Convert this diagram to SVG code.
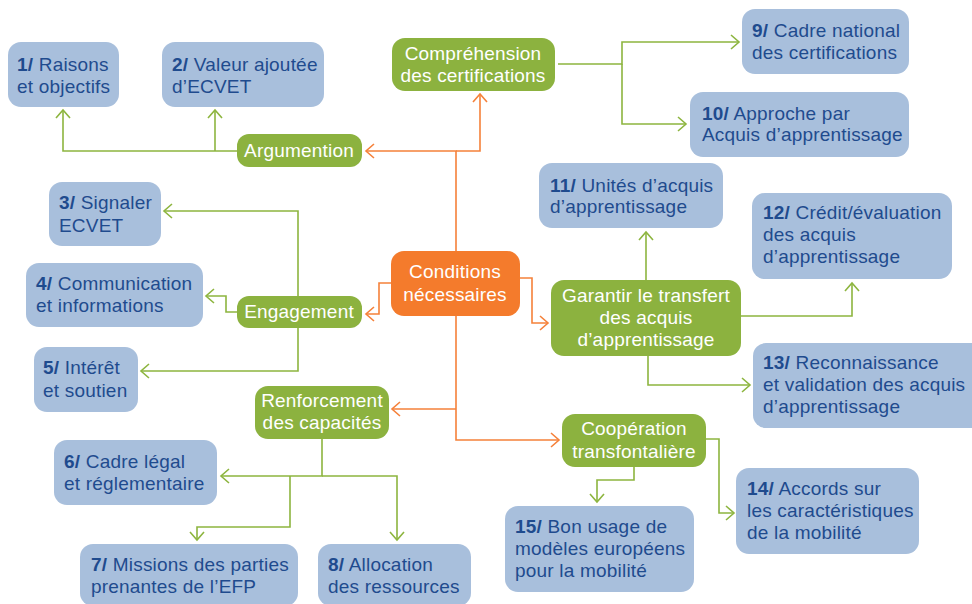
<svg xmlns="http://www.w3.org/2000/svg" width="972" height="604" viewBox="0 0 972 604">
<style>
.b{fill:#a8bfdc}
.g{fill:#8cb23f}
.o{fill:#f47b2c}
text{font-family:"Liberation Sans",Arial,sans-serif;font-size:19px;letter-spacing:0.2px}
.bt{fill:#1f4b8e}
.wt{fill:#ffffff;text-anchor:middle}
.n{font-weight:bold}
.lg{fill:none;stroke:#8db53f;stroke-width:1.6;marker-end:url(#ag)}
.lo{fill:none;stroke:#f5813a;stroke-width:1.6;marker-end:url(#ao)}
</style>
<defs>
<marker id="ag" markerUnits="userSpaceOnUse" markerWidth="20" markerHeight="20" viewBox="-10 -10 20 20" refX="0" refY="0" orient="auto"><path d="M-8,-7 L0,0 L-8,7" fill="none" stroke="#8db53f" stroke-width="1.6"/></marker>
<marker id="ao" markerUnits="userSpaceOnUse" markerWidth="20" markerHeight="20" viewBox="-10 -10 20 20" refX="0" refY="0" orient="auto"><path d="M-8,-7 L0,0 L-8,7" fill="none" stroke="#f5813a" stroke-width="1.6"/></marker>
</defs>
<g id="connectors">
<path class="lo" d="M456,251 V151 H366"/>
<path class="lo" d="M456,151 H480 V94"/>
<path class="lo" d="M391,283 H379 V314 H366"/>
<path class="lo" d="M520,278 H532 V323 H548"/>
<path class="lo" d="M456,316 V440 H559"/>
<path class="lo" d="M456,409 H392"/>
<path class="lg" d="M237,151 H63 V110"/>
<path class="lg" d="M215,151 V110"/>
<path class="lg" d="M558,64 H622 V42 H739"/>
<path class="lg" d="M622,64 V124 H686"/>
<path class="lg" d="M298,296 V211 H164"/>
<path class="lg" d="M237,312 H226 V296 H206"/>
<path class="lg" d="M298,328 V371 H141"/>
<path class="lg" d="M322,439 V476 H221"/>
<path class="lg" d="M322,476 H397 V540"/>
<path class="lg" d="M290,476 V527 H197 V540"/>
<path class="lg" d="M646,280 V232"/>
<path class="lg" d="M648,356 V385 H750"/>
<path class="lg" d="M741,316 H852 V283"/>
<path class="lg" d="M706,439 H719 V513 H734"/>
<path class="lg" d="M634,467 V480 H597 V502"/>
</g>
<g id="n1"><rect class="b" x="8" y="42" width="111" height="65" rx="13"/><text class="bt" x="17" y="71"><tspan class="n">1/</tspan> Raisons</text><text class="bt" x="17" y="93">et objectifs</text></g>
<g id="n2"><rect class="b" x="162" y="42" width="162" height="65" rx="13"/><text class="bt" x="172" y="71"><tspan class="n">2/</tspan> Valeur ajoutée</text><text class="bt" x="172" y="93">d’ECVET</text></g>
<g id="argumention"><rect class="g" x="237" y="134" width="125" height="33" rx="12"/><text class="wt" x="299" y="157">Argumention</text></g>
<g id="comprehension"><rect class="g" x="392" y="38" width="163" height="53" rx="13"/><text class="wt" x="473" y="60">Compréhension</text><text class="wt" x="473" y="82">des certifications</text></g>
<g id="n9"><rect class="b" x="742" y="9" width="167" height="65" rx="13"/><text class="bt" x="752" y="37"><tspan class="n">9/</tspan> Cadre national</text><text class="bt" x="752" y="59">des certifications</text></g>
<g id="n10"><rect class="b" x="690" y="92" width="219" height="65" rx="13"/><text class="bt" x="702" y="120"><tspan class="n">10/</tspan> Approche par</text><text class="bt" x="702" y="141">Acquis d’apprentissage</text></g>
<g id="n3"><rect class="b" x="49" y="182" width="112" height="64" rx="13"/><text class="bt" x="59" y="209"><tspan class="n">3/</tspan> Signaler</text><text class="bt" x="59" y="232">ECVET</text></g>
<g id="n4"><rect class="b" x="26" y="263" width="177" height="64" rx="13"/><text class="bt" x="36" y="290"><tspan class="n">4/</tspan> Communication</text><text class="bt" x="36" y="312">et informations</text></g>
<g id="engagement"><rect class="g" x="237" y="296" width="125" height="32" rx="12"/><text class="wt" x="299" y="318">Engagement</text></g>
<g id="n5"><rect class="b" x="34" y="347" width="104" height="65" rx="13"/><text class="bt" x="43" y="374"><tspan class="n">5/</tspan> Intérêt</text><text class="bt" x="43" y="397">et soutien</text></g>
<g id="conditions"><rect class="o" x="391" y="251" width="129" height="65" rx="13"/><text class="wt" x="455" y="278">Conditions</text><text class="wt" x="455" y="301">nécessaires</text></g>
<g id="n11"><rect class="b" x="539" y="163" width="184" height="65" rx="13"/><text class="bt" x="550" y="192"><tspan class="n">11/</tspan> Unités d’acquis</text><text class="bt" x="550" y="213">d’apprentissage</text></g>
<g id="garantir"><rect class="g" x="551" y="280" width="190" height="76" rx="13"/><text class="wt" x="646" y="302">Garantir le transfert</text><text class="wt" x="646" y="324">des acquis</text><text class="wt" x="646" y="346">d’apprentissage</text></g>
<g id="n12"><rect class="b" x="752" y="193" width="200" height="86" rx="13"/><text class="bt" x="763" y="219"><tspan class="n">12/</tspan> Crédit/évaluation</text><text class="bt" x="763" y="241">des acquis</text><text class="bt" x="763" y="263">d’apprentissage</text></g>
<g id="n13"><rect class="b" x="753" y="343" width="232" height="85" rx="13"/><text class="bt" x="763" y="369"><tspan class="n">13/</tspan> Reconnaissance</text><text class="bt" x="763" y="391">et validation des acquis</text><text class="bt" x="763" y="413">d’apprentissage</text></g>
<g id="renforcement"><rect class="g" x="255" y="386" width="134" height="53" rx="13"/><text class="wt" x="322" y="407">Renforcement</text><text class="wt" x="322" y="429">des capacités</text></g>
<g id="n6"><rect class="b" x="54" y="440" width="163" height="65" rx="13"/><text class="bt" x="64" y="468"><tspan class="n">6/</tspan> Cadre légal</text><text class="bt" x="64" y="490">et réglementaire</text></g>
<g id="n7"><rect class="b" x="80" y="544" width="218" height="62" rx="13"/><text class="bt" x="91" y="571"><tspan class="n">7/</tspan> Missions des parties</text><text class="bt" x="91" y="593">prenantes de l’EFP</text></g>
<g id="n8"><rect class="b" x="318" y="544" width="153" height="62" rx="13"/><text class="bt" x="328" y="571"><tspan class="n">8/</tspan> Allocation</text><text class="bt" x="328" y="593">des ressources</text></g>
<g id="cooperation"><rect class="g" x="562" y="414" width="144" height="53" rx="13"/><text class="wt" x="634" y="435">Coopération</text><text class="wt" x="634" y="458">transfontalière</text></g>
<g id="n14"><rect class="b" x="736" y="468" width="183" height="86" rx="13"/><text class="bt" x="747" y="495"><tspan class="n">14/</tspan> Accords sur</text><text class="bt" x="747" y="517">les caractéristiques</text><text class="bt" x="747" y="539">de la mobilité</text></g>
<g id="n15"><rect class="b" x="505" y="506" width="189" height="86" rx="13"/><text class="bt" x="515" y="533"><tspan class="n">15/</tspan> Bon usage de</text><text class="bt" x="515" y="555">modèles européens</text><text class="bt" x="515" y="577">pour la mobilité</text></g>
</svg>
